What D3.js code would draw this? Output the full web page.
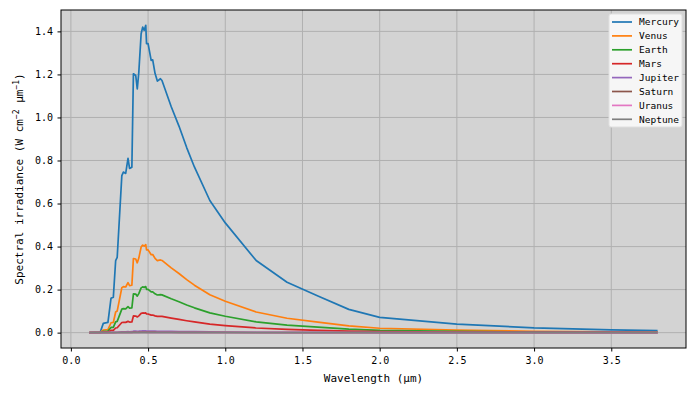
<!DOCTYPE html>
<html>
<head>
<meta charset="utf-8">
<script src="https://cdn.jsdelivr.net/npm/d3@7"></script>
<style>
  body { margin: 0; background: #fff; }
  svg text { font-family: "DejaVu Sans Mono", monospace; fill: #000; }
</style>
</head>
<body>
<svg id="chart" width="695" height="396"></svg>
<script>
// wavelength grid (um)
const wavelength = [0.12, 0.19, 0.21, 0.24, 0.26, 0.275, 0.29, 0.30, 0.33, 0.34,
  0.355, 0.37, 0.38, 0.395, 0.405, 0.42, 0.43, 0.44, 0.455, 0.465,
  0.475, 0.485, 0.49, 0.50, 0.52, 0.53, 0.545, 0.56, 0.58, 0.59,
  0.65, 0.70, 0.75, 0.80, 0.90, 1.0, 1.2, 1.4, 1.6, 1.8,
  2.0, 2.5, 3.0, 3.5, 3.8];

const mercury = [0, 0.002, 0.043, 0.048, 0.160, 0.165, 0.335, 0.350, 0.730, 0.746,
  0.740, 0.810, 0.763, 0.769, 1.203, 1.195, 1.133, 1.210, 1.389, 1.420,
  1.405, 1.428, 1.343, 1.343, 1.265, 1.268, 1.205, 1.169, 1.180, 1.172,
  1.050, 0.960, 0.860, 0.770, 0.614, 0.510, 0.335, 0.234, 0.170, 0.108,
  0.071, 0.040, 0.022, 0.0125, 0.009];

const venus = [0, 0.0006, 0.0122, 0.0138, 0.0459, 0.0473, 0.0958, 0.1002, 0.2091, 0.2137,
  0.2120, 0.2320, 0.2185, 0.2202, 0.3445, 0.3422, 0.3244, 0.3464, 0.3977, 0.4067,
  0.4023, 0.4090, 0.3845, 0.3845, 0.3623, 0.3631, 0.3451, 0.3348, 0.3378, 0.3355,
  0.3007, 0.2749, 0.2462, 0.2206, 0.1758, 0.1460, 0.0958, 0.0670, 0.0486, 0.0310,
  0.0203, 0.0115, 0.0063, 0.0036, 0.0025];

const earth = [0, 0.0003, 0.0064, 0.0072, 0.0240, 0.0247, 0.0501, 0.0524, 0.1093, 0.1117,
  0.1108, 0.1213, 0.1142, 0.1151, 0.1801, 0.1789, 0.1696, 0.1811, 0.2079, 0.2126,
  0.2103, 0.2138, 0.2010, 0.2010, 0.1894, 0.1898, 0.1804, 0.1750, 0.1766, 0.1754,
  0.1572, 0.1437, 0.1287, 0.1153, 0.0919, 0.0763, 0.0501, 0.0350, 0.0254, 0.0162,
  0.0106, 0.0060, 0.0033, 0.0019, 0.0013];

const mars = [0, 0.0001, 0.0028, 0.0031, 0.0103, 0.0106, 0.0216, 0.0226, 0.0471, 0.0481,
  0.0477, 0.0522, 0.0492, 0.0496, 0.0775, 0.0770, 0.0730, 0.0780, 0.0895, 0.0915,
  0.0905, 0.0920, 0.0865, 0.0865, 0.0815, 0.0817, 0.0777, 0.0753, 0.0760, 0.0755,
  0.0677, 0.0619, 0.0554, 0.0496, 0.0396, 0.0328, 0.0216, 0.0151, 0.0109, 0.0070,
  0.0046, 0.0026, 0.0014, 0.0008, 0.0006];

const jupiter = [0, 0, 0.0002, 0.0003, 0.0009, 0.0009, 0.0019, 0.0019, 0.0040, 0.0041,
  0.0041, 0.0045, 0.0042, 0.0043, 0.0067, 0.0066, 0.0063, 0.0067, 0.0077, 0.0079,
  0.0078, 0.0079, 0.0074, 0.0074, 0.0070, 0.0070, 0.0067, 0.0065, 0.0065, 0.0065,
  0.0058, 0.0053, 0.0048, 0.0043, 0.0034, 0.0028, 0.0019, 0.0013, 0.0009, 0.0006,
  0.0004, 0.0002, 0.0001, 0.0001, 0];

const saturn = [0, 0, 0.0001, 0.0001, 0.0003, 0.0003, 0.0005, 0.0006, 0.0012, 0.0012,
  0.0012, 0.0013, 0.0013, 0.0013, 0.0020, 0.0020, 0.0019, 0.0020, 0.0023, 0.0023,
  0.0023, 0.0023, 0.0022, 0.0022, 0.0021, 0.0021, 0.0020, 0.0019, 0.0019, 0.0019,
  0.0017, 0.0016, 0.0014, 0.0013, 0.0010, 0.0008, 0.0005, 0.0004, 0.0003, 0.0002,
  0.0001, 0.0001, 0, 0, 0];

const uranus = [0, 0, 0, 0, 0.0001, 0.0001, 0.0001, 0.0001, 0.0003, 0.0003,
  0.0003, 0.0003, 0.0003, 0.0003, 0.0005, 0.0005, 0.0005, 0.0005, 0.0006, 0.0006,
  0.0006, 0.0006, 0.0005, 0.0005, 0.0005, 0.0005, 0.0005, 0.0005, 0.0005, 0.0005,
  0.0004, 0.0004, 0.0003, 0.0003, 0.0002, 0.0002, 0.0001, 0.0001, 0.0001, 0,
  0, 0, 0, 0, 0];

const neptune = [0, 0, 0, 0, 0, 0, 0.0001, 0.0001, 0.0001, 0.0001,
  0.0001, 0.0001, 0.0001, 0.0001, 0.0002, 0.0002, 0.0002, 0.0002, 0.0002, 0.0002,
  0.0002, 0.0002, 0.0002, 0.0002, 0.0002, 0.0002, 0.0002, 0.0002, 0.0002, 0.0002,
  0.0002, 0.0002, 0.0001, 0.0001, 0.0001, 0.0001, 0.0001, 0, 0, 0,
  0, 0, 0, 0, 0];

const planetNames = ['Mercury', 'Venus', 'Earth', 'Mars', 'Jupiter', 'Saturn', 'Uranus', 'Neptune'];
const planetValues = [mercury, venus, earth, mars, jupiter, saturn, uranus, neptune];
const colors = ['#1f77b4', '#ff7f0e', '#2ca02c', '#d62728', '#9467bd', '#8c564b', '#e377c2', '#7f7f7f'];

const xTicks = [0, 0.5, 1.0, 1.5, 2.0, 2.5, 3.0, 3.5];
const yTicks = [0, 0.2, 0.4, 0.6, 0.8, 1.0, 1.2, 1.4];

const margin = {left: 61, top: 10, right: 9, bottom: 48};
const width = 695 - margin.left - margin.right;
const height = 396 - margin.top - margin.bottom;

const svg = d3.select('#chart');

// matplotlib-style 5% margins around the data
const xMin = d3.min(wavelength), xMax = d3.max(wavelength);
const yMin = 0, yMax = d3.max(mercury);
const xPad = (xMax - xMin) * 0.05, yPad = (yMax - yMin) * 0.05;

const xScale = d3.scaleLinear().domain([xMin - xPad, xMax + xPad]).range([0, width]);
const yScale = d3.scaleLinear().domain([yMin - yPad, yMax + yPad]).range([height, 0]);

const g = svg.append('g').attr('transform', 'translate(' + margin.left + ',' + margin.top + ')');

g.append('rect')
  .attr('width', width)
  .attr('height', height)
  .attr('fill', '#d3d3d3');

// grid
g.append('g').selectAll('line.vgrid')
  .data(xTicks).enter().append('line')
  .attr('x1', d => xScale(d)).attr('x2', d => xScale(d))
  .attr('y1', 0).attr('y2', height)
  .attr('stroke', '#b0b0b0').attr('stroke-width', 1);

g.append('g').selectAll('line.hgrid')
  .data(yTicks).enter().append('line')
  .attr('y1', d => yScale(d)).attr('y2', d => yScale(d))
  .attr('x1', 0).attr('x2', width)
  .attr('stroke', '#b0b0b0').attr('stroke-width', 1);

// series
const clip = g.append('clipPath').attr('id', 'plotClip');
clip.append('rect').attr('width', width).attr('height', height);

const line = d3.line()
  .x(d => xScale(d[0]))
  .y(d => yScale(d[1]));

const lineGroup = g.append('g').attr('clip-path', 'url(#plotClip)');
planetValues.forEach((vals, i) => {
  lineGroup.append('path')
    .datum(wavelength.map((w, j) => [w, vals[j]]))
    .attr('d', line)
    .attr('fill', 'none')
    .attr('stroke', colors[i])
    .attr('stroke-width', 1.7)
    .attr('stroke-linejoin', 'round');
});

// axes
const xAxis = d3.axisBottom(xScale).tickValues(xTicks).tickFormat(d3.format('.1f')).tickSize(3.5).tickPadding(5);
const yAxis = d3.axisLeft(yScale).tickValues(yTicks).tickFormat(d3.format('.1f')).tickSize(3.5).tickPadding(4.5);

const gx = g.append('g').attr('transform', 'translate(0,' + height + ')').call(xAxis);
const gy = g.append('g').call(yAxis);

[gx, gy].forEach(a => {
  a.select('.domain').remove();
  a.selectAll('text').style('font-family', '"DejaVu Sans Mono", monospace').style('font-size', '10px');
  a.selectAll('line').attr('stroke', '#000');
});

g.append('rect')
  .attr('width', width)
  .attr('height', height)
  .attr('fill', 'none')
  .attr('stroke', '#000')
  .attr('stroke-width', 1);

// axis labels
g.append('text')
  .attr('x', width / 2)
  .attr('y', height + 34)
  .attr('text-anchor', 'middle')
  .style('font-size', '11px')
  .text('Wavelength (μm)');

const yLabel = g.append('text')
  .attr('transform', 'translate(-38,' + (height / 2) + ') rotate(-90)')
  .attr('text-anchor', 'middle')
  .style('font-size', '11px');
yLabel.append('tspan').text('Spectral irradiance (W cm');
yLabel.append('tspan').attr('dy', -4).style('font-size', '8px').text('−2');
yLabel.append('tspan').attr('dy', 4).text(' μm');
yLabel.append('tspan').attr('dy', -4).style('font-size', '8px').text('−1');
yLabel.append('tspan').attr('dy', 4).text(')');

// legend
const legend = g.append('g').attr('transform', 'translate(' + (width - 77) + ',4)');
legend.append('rect')
  .attr('width', 73)
  .attr('height', 113)
  .attr('rx', 2)
  .attr('fill', '#f6f6f6')
  .attr('stroke', '#e0e0e0');

planetNames.forEach((name, i) => {
  const ly = 8 + i * 13.9;
  legend.append('line')
    .attr('x1', 3).attr('x2', 23)
    .attr('y1', ly).attr('y2', ly)
    .attr('stroke', colors[i]).attr('stroke-width', 1.7);
  legend.append('text')
    .attr('x', 30)
    .attr('y', ly + 3.3)
    .style('font-size', '9.5px')
    .text(name);
});
</script>
